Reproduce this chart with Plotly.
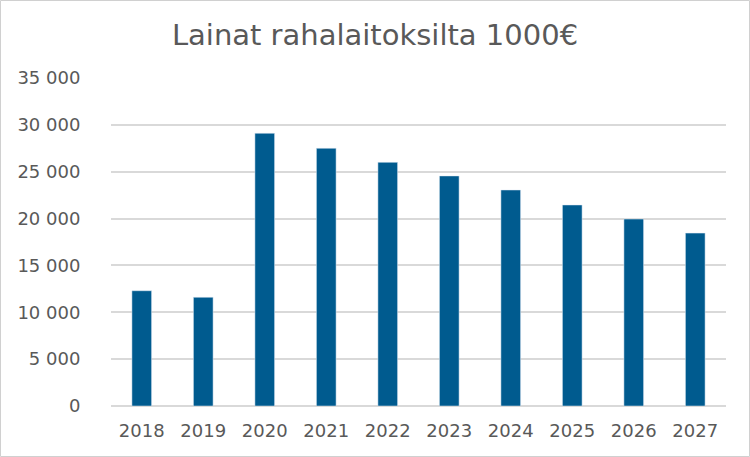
import plotly.graph_objects as go

years = ["2018", "2019", "2020", "2021", "2022", "2023", "2024", "2025", "2026", "2027"]
loans = [12300, 11600, 29100, 27500, 26000, 24550, 23050, 21450, 19950, 18450]
y_ticks = [0, 5000, 10000, 15000, 20000, 25000, 30000, 35000]

W, H = 750, 457
L, R, T, B = 111, 24, 78, 51
pw, ph = W - L - R, H - T - B

fig = go.Figure(go.Bar(x=years, y=loans, marker_color="#005B8F", width=0.32))

fig.update_layout(
    width=W, height=H,
    margin=dict(l=L, r=R, t=T, b=B, pad=0),
    paper_bgcolor="white", plot_bgcolor="white",
    separators=", ",
    showlegend=False,
    font=dict(family="DejaVu Sans, Verdana, sans-serif", color="#595959", size=18),
    title=dict(text="Lainat rahalaitoksilta 1000€", x=0.5, xanchor="center",
               y=1 - 35 / H, yanchor="middle",
               font=dict(size=29, color="#595959")),
    xaxis=dict(showgrid=False, showline=False, ticks="outside", ticklen=8,
               tickcolor="rgba(0,0,0,0)", tickfont=dict(size=18, color="#595959")),
    yaxis=dict(range=[0, 35000], tickvals=y_ticks, tickformat=",d",
               showgrid=True, gridcolor="#D9D9D9", gridwidth=1.5,
               zeroline=True, zerolinecolor="#D9D9D9", zerolinewidth=1.5,
               showline=False, ticks="outside", ticklen=26,
               tickcolor="rgba(0,0,0,0)", tickfont=dict(size=18, color="#595959")),
    shapes=[dict(type="rect", xref="paper", yref="paper",
                 x0=(0.5 - L) / pw, x1=(W - 0.5 - L) / pw,
                 y0=-(B - 0.5) / ph, y1=1 + (T - 0.5) / ph,
                 line=dict(color="#D0D0D0", width=1), fillcolor="rgba(0,0,0,0)",
                 layer="below")],
)

fig.write_html("out.html", config={"displayModeBar": False},
               post_script="document.body.style.margin='0';document.body.style.overflow='hidden';")
